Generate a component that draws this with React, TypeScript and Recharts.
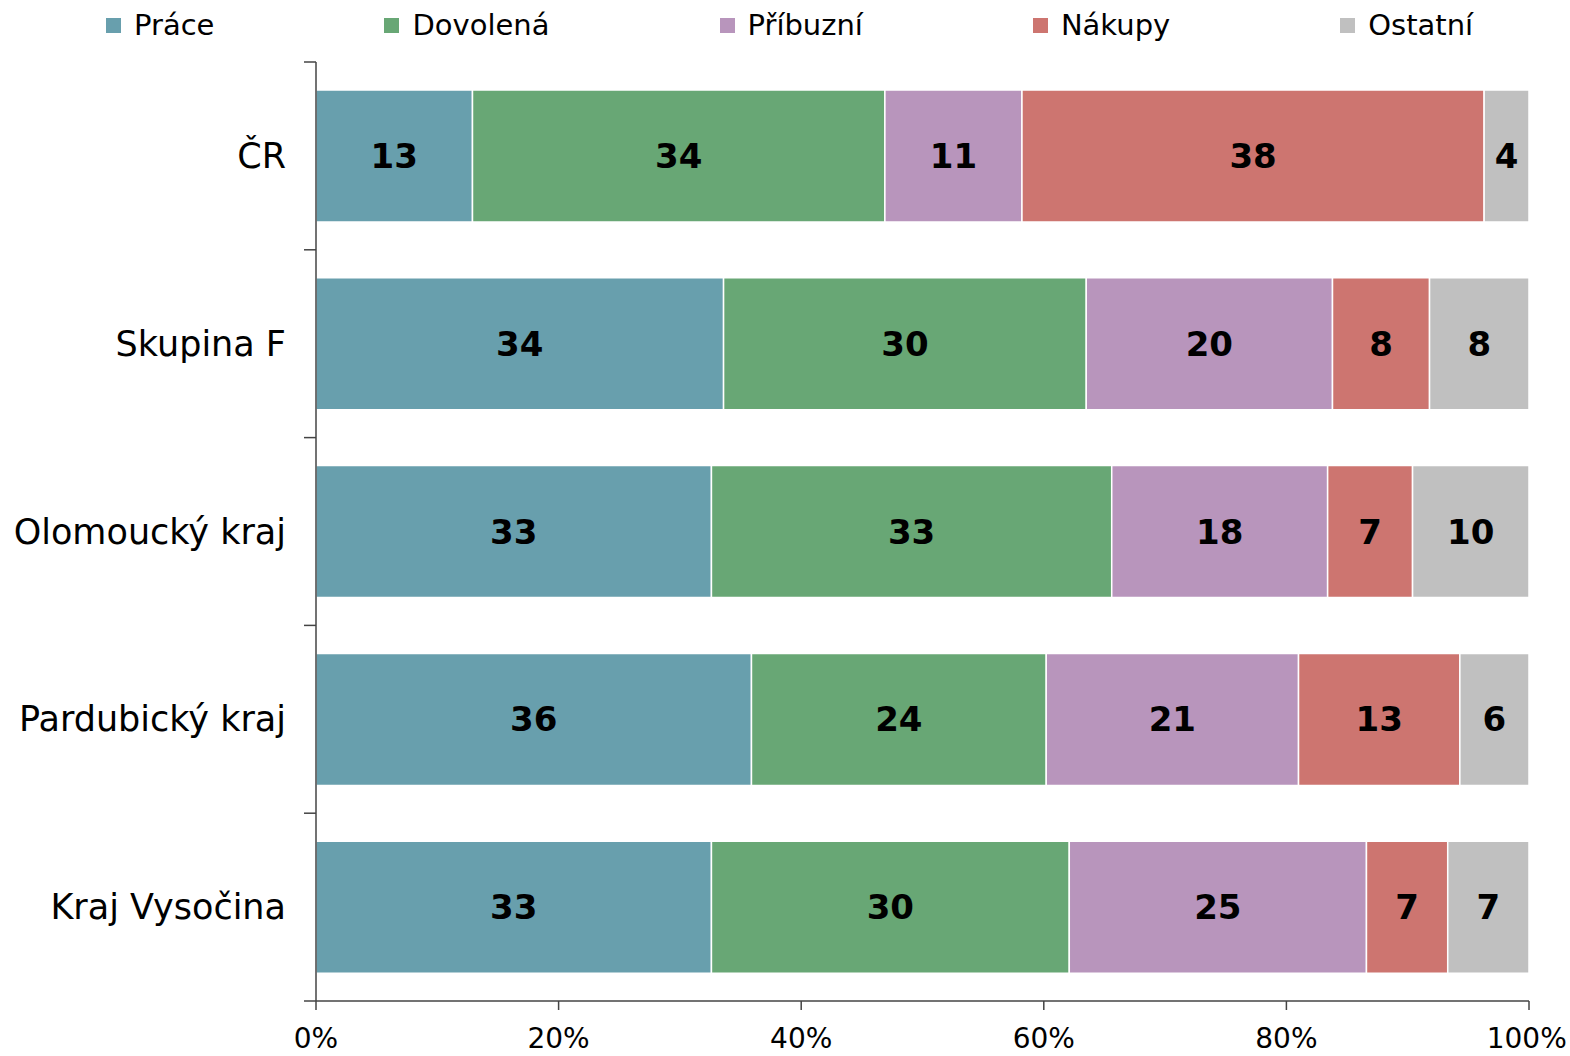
import { BarChart, Bar, XAxis, YAxis, LabelList } from "recharts";

const categories = ["ČR", "Skupina F", "Olomoucký kraj", "Pardubický kraj", "Kraj Vysočina"];

const prace = [12.9, 33.6, 32.6, 35.9, 32.6];
const dovolena = [34.0, 29.9, 33.0, 24.3, 29.5];
const pribuzni = [11.3, 20.3, 17.8, 20.8, 24.5];
const nakupy = [38.1, 8.0, 7.0, 13.3, 6.7];
const ostatni = [3.7, 8.2, 9.6, 5.7, 6.7];

const xTicks = [0, 20, 40, 60, 80, 100];

const series = [
    { key: "prace", name: "Práce", color: "#689FAD", values: prace },
    { key: "dovolena", name: "Dovolená", color: "#68A775", values: dovolena },
    { key: "pribuzni", name: "Příbuzní", color: "#B895BC", values: pribuzni },
    { key: "nakupy", name: "Nákupy", color: "#CD7570", values: nakupy },
    { key: "ostatni", name: "Ostatní", color: "#C0C0C0", values: ostatni },
];

const W = 1570;
const H = 1056;
const MARGIN = { top: 62, right: 41, bottom: 0, left: 0 };
const X_AXIS_H = 55;
const Y_AXIS_W = 316;
const FONT = "'DejaVu Sans', Verdana, sans-serif";
const AXIS_COLOR = "#444";

const plotHeight = H - MARGIN.top - MARGIN.bottom - X_AXIS_H;
const bandSize = plotHeight / categories.length;

const data = categories.map((name, i) => {
    const row: Record<string, string | number> = { name };
    series.forEach((s) => {
        row[s.key] = s.values[i];
    });
    return row;
});

// category label plus Excel-style tick marks at band boundaries
const CategoryTick = (props: any) => {
    const { x, y, payload, index } = props;
    const top = y - bandSize / 2;
    const bottom = y + bandSize / 2;
    return (
        <g>
            <line x1={x + 18} x2={x + 30} y1={top} y2={top} stroke={AXIS_COLOR} strokeWidth={1.5} />
            {index === categories.length - 1 && (
                <line x1={x + 18} x2={x + 30} y1={bottom} y2={bottom} stroke={AXIS_COLOR} strokeWidth={1.5} />
            )}
            <text x={x} y={y} textAnchor="end" dominantBaseline="central" fontSize={35} fontFamily={FONT} fill="#000">
                {payload.value}
            </text>
        </g>
    );
};

const App = () => {
    return (
        <div style={{ position: "absolute", left: 0, top: 0, width: W, height: H, background: "#fff" }}>
            <div
                style={{
                    position: "absolute",
                    left: 106,
                    top: 7,
                    display: "flex",
                    gap: 170,
                    fontFamily: FONT,
                    fontSize: 29,
                    lineHeight: "36px",
                    color: "#000",
                    whiteSpace: "nowrap",
                }}
            >
                {series.map((s) => (
                    <div key={s.key} style={{ display: "flex", alignItems: "center", gap: 13 }}>
                        <span style={{ width: 15, height: 15, background: s.color, display: "inline-block" }} />
                        <span>{s.name}</span>
                    </div>
                ))}
            </div>
            <BarChart
                width={W}
                height={H}
                data={data}
                layout="vertical"
                margin={MARGIN}
                barSize={132}
                style={{ overflow: "visible" }}
            >
                <XAxis
                    type="number"
                    domain={[0, 100]}
                    ticks={xTicks}
                    allowDataOverflow
                    tickFormatter={(v) => `${v}%`}
                    height={X_AXIS_H}
                    tickSize={9}
                    tickMargin={18}
                    stroke={AXIS_COLOR}
                    strokeWidth={1.5}
                    tick={{ fontSize: 28, fontFamily: FONT, fill: "#000" }}
                />
                <YAxis
                    type="category"
                    dataKey="name"
                    width={Y_AXIS_W}
                    tickLine={false}
                    tickSize={12}
                    tickMargin={18}
                    stroke={AXIS_COLOR}
                    strokeWidth={1.5}
                    tick={<CategoryTick />}
                />
                {series.map((s) => (
                    <Bar
                        key={s.key}
                        dataKey={s.key}
                        name={s.name}
                        stackId="a"
                        fill={s.color}
                        stroke="#fff"
                        strokeWidth={1.5}
                        isAnimationActive={false}
                    >
                        <LabelList
                            dataKey={s.key}
                            position="center"
                            formatter={(v: any) => Math.round(Number(v))}
                            style={{ fontSize: 34, fontWeight: "bold", fontFamily: FONT, fill: "#000" }}
                        />
                    </Bar>
                ))}
            </BarChart>
        </div>
    );
};

export default App;
